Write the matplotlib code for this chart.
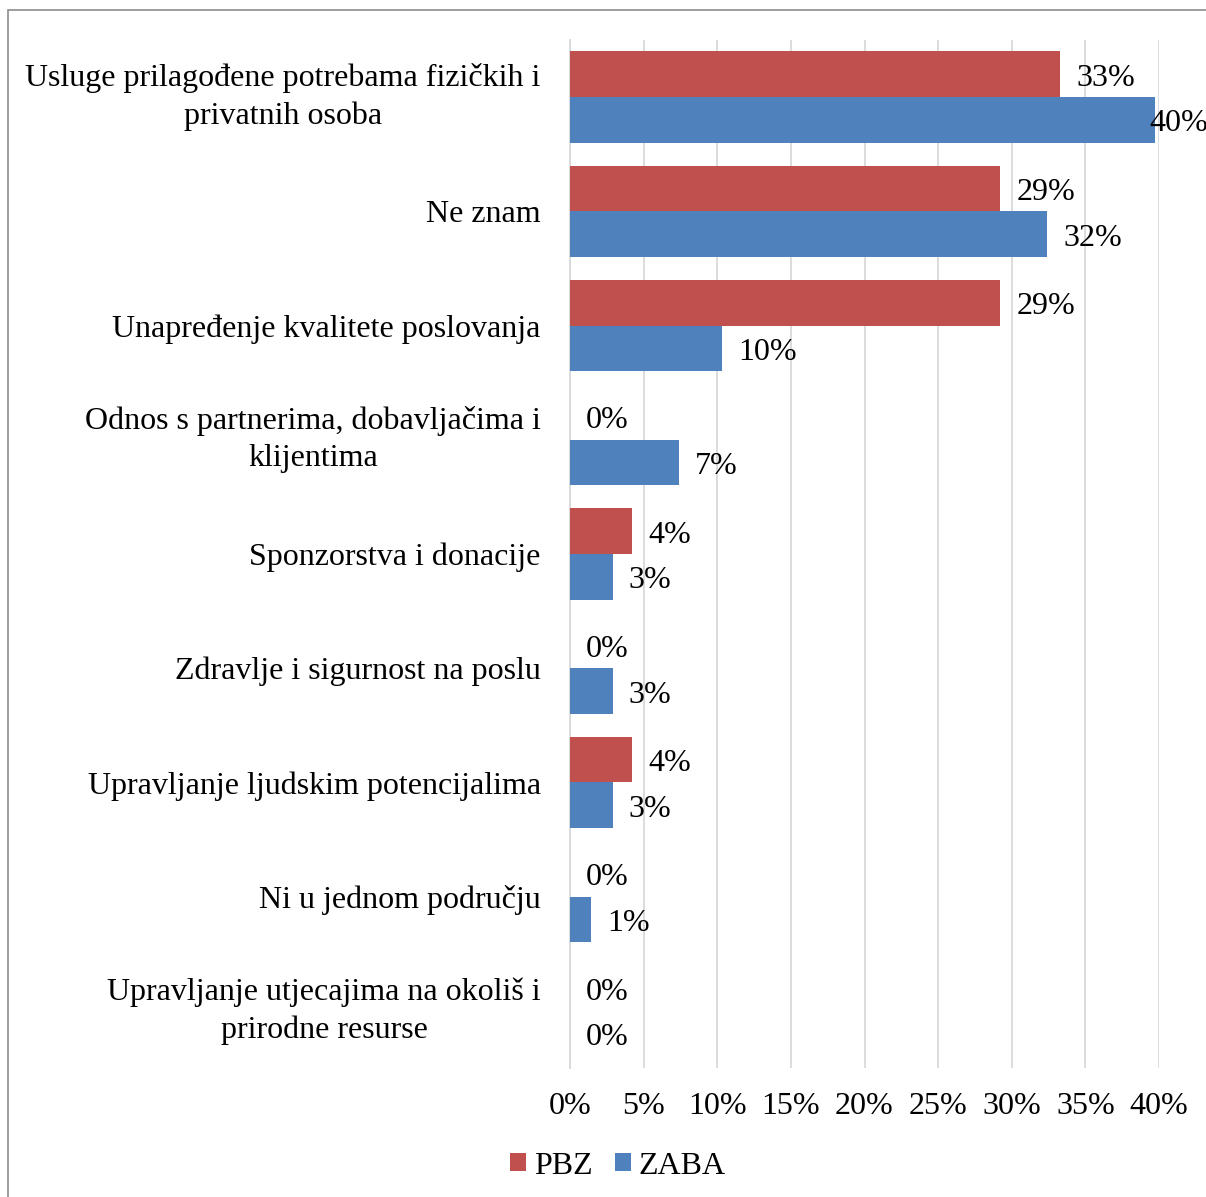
import matplotlib
matplotlib.use("Agg")
import matplotlib.pyplot as plt
from matplotlib.patches import Rectangle, Patch
import numpy as np

plt.rcParams['font.family'] = ['Liberation Serif', 'DejaVu Serif']

categories = [
    "Usluge prilagođene potrebama fizičkih i\nprivatnih osoba",
    "Ne znam",
    "Unapređenje kvalitete poslovanja",
    "Odnos s partnerima, dobavljačima i\nklijentima",
    "Sponzorstva i donacije",
    "Zdravlje i sigurnost na poslu",
    "Upravljanje ljudskim potencijalima",
    "Ni u jednom području",
    "Upravljanje utjecajima na okoliš i\nprirodne resurse",
]
pbz = [33.3, 29.2, 29.2, 0.0, 4.2, 0.0, 4.2, 0.0, 0.0]
zaba = [39.7, 32.4, 10.3, 7.4, 2.9, 2.9, 2.9, 1.4, 0.0]
xticks = [0, 5, 10, 15, 20, 25, 30, 35, 40]
series_names = ["PBZ", "ZABA"]
colors = ["#C0504D", "#4F81BD"]

W, H = 1206, 1197
fig = plt.figure(figsize=(W / 100, H / 100), dpi=100)

# outer chart frame (extends beyond right/bottom edges)
fig.patches.append(Rectangle((8 / W, -0.1), 1.2, 1 - 10 / H + 0.1,
                             transform=fig.transFigure, fill=False,
                             edgecolor="#8C8C8C", linewidth=1.2))

ax = fig.add_axes([570 / W, (H - 1068) / H, (1159 - 570) / W, (1068 - 40) / H])

n = len(categories)
y = np.arange(n)
h = 0.4
fs = 23

ax.barh(y - h / 2, pbz, height=h, color=colors[0], label=series_names[0], zorder=3)
ax.barh(y + h / 2, zaba, height=h, color=colors[1], label=series_names[1], zorder=3)

for vals, off in ((pbz, -h / 2), (zaba, h / 2)):
    for i, v in enumerate(vals):
        xp = min(v + 1.1, 39.35)
        ax.text(xp, i + off + 0.035, f"{v:.0f}%", va="center", ha="left", fontsize=fs,
                zorder=4, clip_on=False)

ax.set_ylim(n - 0.5, -0.5)
ax.set_xlim(0, 40)
ax.set_yticks(y)
ax.set_yticklabels(categories, fontsize=fs, ha="right", multialignment="center",
                   linespacing=1.38)
for lab in ax.get_yticklabels():
    if "\n" in lab.get_text():
        lab.set_va("center")
ax.tick_params(axis="y", length=0, pad=21)

ax.set_xticks(xticks)
ax.set_xticklabels([f"{t}%" for t in xticks], fontsize=fs)
ax.tick_params(axis="x", length=0, pad=17)

ax.grid(axis="x", color="#D9D9D9", linewidth=1.3, zorder=0)
for s in ["top", "right", "bottom"]:
    ax.spines[s].set_visible(False)
ax.spines["left"].set_color("#D9D9D9")
ax.spines["left"].set_linewidth(1.3)

handles = [Patch(facecolor=c, label=l) for c, l in zip(colors, series_names)]
fig.legend(handles=handles, loc="center", bbox_to_anchor=(618 / W, (H - 1166) / H),
           ncol=2, frameon=False, fontsize=fs, handlelength=0.5, handleheight=0.5,
           handletextpad=0.25, columnspacing=0.7, borderaxespad=0)

fig.savefig("out.png", dpi=100)
